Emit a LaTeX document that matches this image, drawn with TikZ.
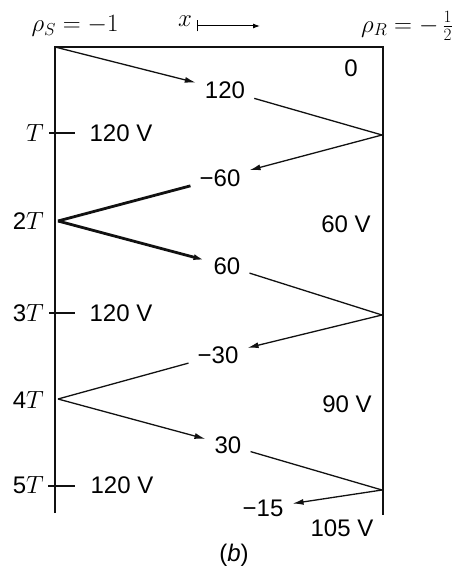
\documentclass[tikz,border=0pt]{standalone}
\usepackage{fontspec}
\setsansfont{Liberation Sans}
\usetikzlibrary{positioning, arrows.meta}
\definecolor{lnInk}{HTML}{111111}
\tikzset{
    lnLine/.style={line width=2.4pt, draw=lnInk},
    lnTick/.style={line width=2pt, draw=lnInk},
    lnWave/.style={line width=1.3pt, draw=lnInk},
    lnArrow/.style={lnWave, -{Latex[length=11pt,width=6pt]}},
    lnBold/.style={line width=2.8pt},
    lnValue/.style={
        font=\fontsize{24}{28}\selectfont\sffamily,
        inner xsep=9pt,
        inner ysep=1pt
    },
    lnTime/.style={
        font=\fontsize{24}{28}\selectfont\sffamily,
        anchor=east,
        inner sep=0pt
    },
    lnVolt/.style={
        font=\fontsize{24}{28}\selectfont\sffamily,
        inner sep=0pt
    },
    lnHead/.style={
        font=\fontsize{26}{30}\selectfont,
        inner sep=0pt
    }
}

\begin{document}
\begin{tikzpicture}[x=1pt, y=-1pt]
    \useasboundingbox (0,0) rectangle (462,567);
    % the two ends of the line
    \coordinate (s0) at (55,47);
    \coordinate (sEnd) at (55,513);
    \coordinate (r0) at (383,47);
    \coordinate (rEnd) at (383,515);
    \draw[lnLine] (sEnd) -- (s0) -- (r0) -- (rEnd);

    % reflection points
    \coordinate (r1) at (382,135);
    \coordinate (s2) at (58,221);
    \coordinate (r3) at (382,315);
    \coordinate (s4) at (58,399);
    \coordinate (r5) at (382,490);

    % heading
    \node[lnHead] (rhoS) at (75,26) {$\rho_S = -1$};
    \node[lnHead] (xLbl) at (185,21) {$x$};
    \coordinate (xStart) at (197,26);
    \coordinate (xEnd) at (260,26);
    \draw[line width=1pt, {Bar[width=11pt]}-{Latex[length=7pt,width=5pt]}] (xStart) -- (xEnd);
    \node[lnHead] (rhoR) at (407,26) {$\rho_R = -\,{\textstyle\frac{1}{2}}$};

    % wave values
    \node[lnValue] (v0) at (351,68) {0};
    \node[lnValue] (v1) at (225,90) {120};
    \node[lnValue] (v2) at (220,178) {−60};
    \node[lnValue] (v3) at (227,266) {60};
    \node[lnValue] (v4) at (218,355) {−30};
    \node[lnValue] (v5) at (228,445) {30};
    \node[lnValue] (v6) at (263,508) {−15};

    \draw[lnArrow] (s0) -- (v1);
    \draw[lnWave] (v1) -- (r1);
    \draw[lnArrow] (r1) -- (v2);
    \draw[lnWave, lnBold] (v2) -- (s2);
    \draw[lnArrow, lnBold] (s2) -- (v3);
    \draw[lnWave] (v3) -- (r3);
    \draw[lnArrow] (r3) -- (v4);
    \draw[lnWave] (v4) -- (s4);
    \draw[lnArrow] (s4) -- (v5);
    \draw[lnWave] (v5) -- (r5);
    \draw[lnArrow] (r5) -- (v6);

    % time marks at the sending end
    \node[lnTime] (t1) at (44,133) {$T$};
    \node[lnTime] (t2) at (44,221) {2$T$};
    \node[lnTime] (t3) at (44,313) {3$T$};
    \node[lnTime] (t4) at (44,400) {4$T$};
    \node[lnTime] (t5) at (44,485) {5$T$};
    \coordinate (k1a) at (49,133);  \coordinate (k1b) at (75,133);
    \coordinate (k3a) at (49,313);  \coordinate (k3b) at (75,313);
    \coordinate (k5a) at (48,486);  \coordinate (k5b) at (75,486);
    \draw[lnTick] (k1a) -- (k1b);
    \draw[lnTick] (k3a) -- (k3b);
    \draw[lnTick] (k5a) -- (k5b);

    % voltages
    \node[lnVolt] (u1) at (121,133) {120 V};
    \node[lnVolt] (u3) at (121,313) {120 V};
    \node[lnVolt] (u5) at (122,485) {120 V};
    \node[lnVolt] (w2) at (346,224) {60 V};
    \node[lnVolt] (w4) at (347,404) {90 V};
    \node[lnVolt] (w6) at (342,528) {105 V};

    \node[lnVolt] (cap) at (234,555) {(\textit{b})};
\end{tikzpicture}
\end{document}
